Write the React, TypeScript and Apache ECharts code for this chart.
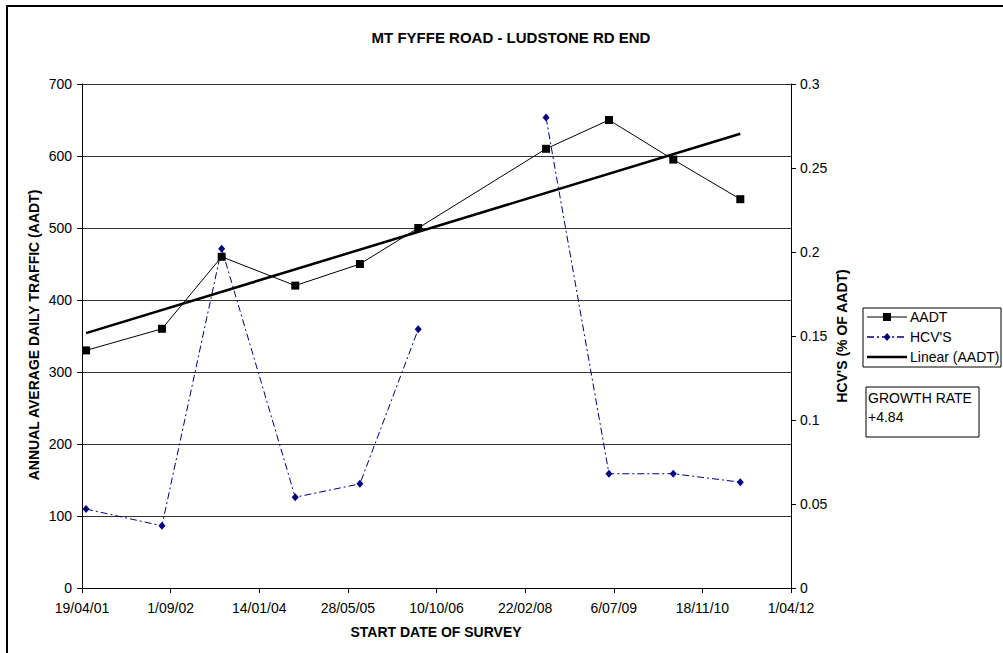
import React, { useEffect, useRef } from "react";
import * as echarts from "echarts";

// Survey dates as Excel serial day numbers (37000 = 19/04/01)
const surveyDates = [37023, 37451, 37788, 38203, 38568, 38897, 39618, 39973, 40336, 40714];
const aadtValues = [330, 360, 460, 420, 450, 500, 610, 650, 595, 540];
const hcvValues = [0.047, 0.037, 0.202, 0.054, 0.062, 0.154, 0.28, 0.068, 0.068, 0.063];
const hcvGapAfterIndex = 5;
const trendDates = [37023, 40714];
const trendValues = [354, 631];
const xTickLabels = ["19/04/01", "1/09/02", "14/01/04", "28/05/05", "10/10/06", "22/02/08", "6/07/09", "18/11/10", "1/04/12"];
const xMin = 37000;
const xStep = 500;

const FONT = "'Liberation Sans', Arial, sans-serif";

function txt(text: string, x: number, y: number, size: number, bold: boolean, align = "left", vAlign = "middle", rotation = 0) {
  return {
    type: "text",
    x,
    y,
    rotation,
    z: 100,
    style: {
      text,
      font: `${bold ? "bold " : ""}${size}px ${FONT}`,
      fill: "#000",
      align,
      textAlign: align,
      verticalAlign: vAlign,
      textVerticalAlign: vAlign,
    },
  };
}

export default function App() {
  const ref = useRef<HTMLDivElement>(null);
  useEffect(() => {
    if (!ref.current) return;
    const chart = echarts.init(ref.current, null, { renderer: "svg" });

    const hcvData: any[] = [];
    surveyDates.forEach((d, i) => {
      hcvData.push([d, hcvValues[i]]);
      if (i === hcvGapAfterIndex) hcvData.push([d, "-"]);
    });

    const legendX = 863;
    const legendY = 308;
    const rowY = [317, 337, 357];

    const option: any = {
      animation: false,
      backgroundColor: "#fff",
      textStyle: { fontFamily: FONT },
      grid: { left: 82, top: 84, width: 709, height: 504, containLabel: false },
      xAxis: {
        type: "value",
        min: xMin,
        max: 41000,
        interval: xStep,
        axisLine: { show: true, onZero: false, lineStyle: { color: "#000", width: 1 } },
        axisTick: { show: true, inside: false, length: 5, lineStyle: { color: "#000" } },
        axisLabel: {
          fontSize: 14,
          color: "#000",
          margin: 13,
          fontFamily: FONT,
          formatter: (v: number) => xTickLabels[Math.round((v - xMin) / xStep)] ?? "",
        },
        splitLine: { show: false },
      },
      yAxis: [
        {
          type: "value",
          position: "left",
          min: 0,
          max: 700,
          interval: 100,
          axisLine: { show: true, lineStyle: { color: "#000", width: 1 } },
          axisTick: { show: true, inside: false, length: 5, lineStyle: { color: "#000" } },
          axisLabel: { fontSize: 14, color: "#000", margin: 10, fontFamily: FONT },
          splitLine: { show: true, lineStyle: { color: "#333", width: 1 } },
        },
        {
          type: "value",
          position: "right",
          min: 0,
          max: 0.3,
          interval: 0.05,
          axisLine: { show: true, lineStyle: { color: "#000", width: 1 } },
          axisTick: { show: true, inside: false, length: 5, lineStyle: { color: "#000" } },
          axisLabel: {
            fontSize: 14,
            color: "#000",
            margin: 9,
            fontFamily: FONT,
            formatter: (v: number) => String(+v.toFixed(2)),
          },
          splitLine: { show: false },
        },
      ],
      series: [
        {
          name: "AADT",
          type: "line",
          xAxisIndex: 0,
          yAxisIndex: 0,
          data: surveyDates.map((d, i) => [d, aadtValues[i]]),
          symbol: "rect",
          symbolSize: 8,
          lineStyle: { color: "#000", width: 1 },
          itemStyle: { color: "#000" },
          z: 3,
        },
        {
          name: "HCV'S",
          type: "line",
          xAxisIndex: 0,
          yAxisIndex: 1,
          data: hcvData,
          connectNulls: false,
          symbol: "diamond",
          symbolSize: [7, 8],
          lineStyle: { color: "#000080", width: 1, type: [7, 3, 2, 3] },
          itemStyle: { color: "#000080" },
          z: 2,
        },
        {
          name: "Linear (AADT)",
          type: "line",
          xAxisIndex: 0,
          yAxisIndex: 0,
          data: trendDates.map((d, i) => [d, trendValues[i]]),
          symbol: "none",
          lineStyle: { color: "#000", width: 2.5 },
          z: 4,
        },
      ],
      graphic: [
        {
          type: "rect",
          shape: { x: 7, y: 6, width: 1100, height: 800 },
          style: { fill: "none", stroke: "#000", lineWidth: 2 },
          z: 100,
        },
        txt("MT FYFFE ROAD - LUDSTONE RD END", 511, 37, 15, true, "center"),
        txt("START DATE OF SURVEY", 436, 632, 14, true, "center"),
        txt("ANNUAL AVERAGE DAILY TRAFFIC (AADT)", 34, 335, 14, true, "center", "middle", Math.PI / 2),
        txt("HCV'S (% OF AADT)", 842, 336, 14, true, "center", "middle", Math.PI / 2),
        // legend box
        {
          type: "rect",
          shape: { x: legendX, y: legendY, width: 138, height: 59 },
          style: { fill: "#fff", stroke: "#000", lineWidth: 1 },
          z: 99,
        },
        {
          type: "line",
          shape: { x1: 867, y1: rowY[0], x2: 907, y2: rowY[0] },
          style: { stroke: "#000", lineWidth: 1 },
          z: 100,
        },
        {
          type: "rect",
          shape: { x: 883, y: rowY[0] - 4, width: 8, height: 8 },
          style: { fill: "#000" },
          z: 100,
        },
        txt("AADT", 910, rowY[0], 14, false),
        {
          type: "line",
          shape: { x1: 867, y1: rowY[1], x2: 907, y2: rowY[1] },
          style: { stroke: "#000080", lineWidth: 1.5, lineDash: [7, 3, 2, 3] },
          z: 100,
        },
        {
          type: "polygon",
          shape: { points: [[887, rowY[1] - 4], [890.5, rowY[1]], [887, rowY[1] + 4], [883.5, rowY[1]]] },
          style: { fill: "#000080" },
          z: 100,
        },
        txt("HCV'S", 910, rowY[1], 14, false),
        {
          type: "line",
          shape: { x1: 867, y1: rowY[2], x2: 907, y2: rowY[2] },
          style: { stroke: "#000", lineWidth: 2.5 },
          z: 100,
        },
        txt("Linear (AADT)", 910, rowY[2], 14, false),
        // growth rate box
        {
          type: "rect",
          shape: { x: 866, y: 387, width: 113, height: 50 },
          style: { fill: "#fff", stroke: "#000", lineWidth: 1 },
          z: 99,
        },
        txt("GROWTH RATE", 868, 398, 14, false),
        txt("+4.84", 868, 417, 14, false),
      ],
    };

    chart.setOption(option);
    return () => chart.dispose();
  }, []);

  return (
    <div
      ref={ref}
      style={{ position: "fixed", left: 0, top: 0, width: 1003, height: 653, background: "#fff" }}
    />
  );
}
